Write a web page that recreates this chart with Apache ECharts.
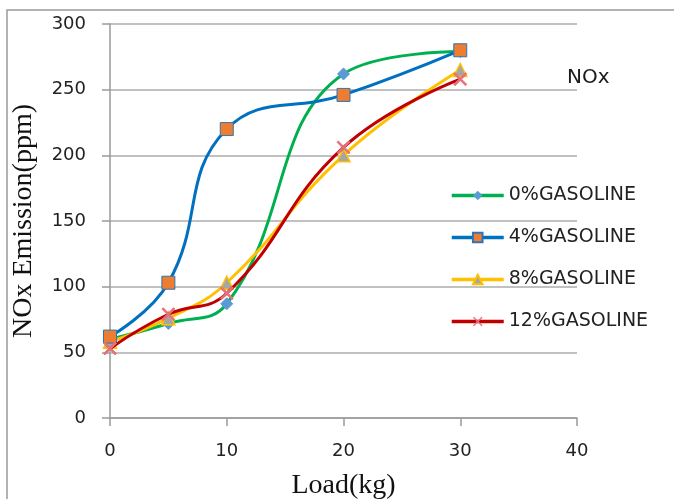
<!DOCTYPE html>
<html>
<head>
<meta charset="utf-8">
<script src="https://cdn.jsdelivr.net/npm/echarts@6/dist/echarts.min.js"></script>
<style>html,body{margin:0;padding:0;background:#fff}#c{width:674px;height:499px}</style>
</head>
<body>
<div id="c"></div>
<script>
var loads = [0, 5, 10, 20, 30];
var gas0 = [60, 72, 87, 262, 279];
var gas4 = [62, 103, 220, 246, 280];
var gas8 = [58, 76, 103, 200, 265];
var gas12 = [53, 79, 95, 206, 258];
var seriesNames = ['0%GASOLINE', '4%GASOLINE', '8%GASOLINE', '12%GASOLINE'];

function pairs(v) { return loads.map(function (x, i) { return [x, v[i]]; }); }

var crossPath = 'path://M0,1L1,0L5,4L9,0L10,1L6,5L10,9L9,10L5,6L1,10L0,9L4,5Z';
var sans = 'DejaVu Sans';
var serif = 'Liberation Serif';

var chart = echarts.init(document.getElementById('c'));
chart.setOption({
  animation: false,
  backgroundColor: '#fff',
  grid: { left: 110, right: 97, top: 24, bottom: 81, outerBoundsMode: 'none', containLabel: false },
  graphic: [
    { type: 'rect', shape: { x: 7, y: 10, width: 720, height: 520 }, style: { fill: 'none', stroke: '#9a9a9a', lineWidth: 1.5 }, z: -1 },
    { type: 'text', left: 567, top: 68, style: { text: 'NOx', font: '20px "DejaVu Sans"', fill: '#1a1a1a' } }
  ],
  legend: {
    orient: 'vertical', left: 445, top: 181, itemGap: 23, itemWidth: 52, itemHeight: 12,
    lineStyle: { width: 3.5 },
    textStyle: { fontFamily: sans, fontSize: 19, color: '#222' },
    data: seriesNames
  },
  xAxis: {
    type: 'value', min: 0, max: 40, interval: 10,
    name: 'Load(kg)', nameLocation: 'middle', nameGap: 54,
    nameTextStyle: { fontFamily: serif, fontSize: 28, color: '#111' },
    axisLine: { show: true, lineStyle: { color: '#9a9a9a', width: 1.5 } },
    axisTick: { show: true, length: 8, lineStyle: { color: '#9a9a9a', width: 1.5 } },
    axisLabel: { fontFamily: sans, fontSize: 18, color: '#222', margin: 24 },
    splitLine: { show: false }
  },
  yAxis: {
    type: 'value', min: 0, max: 300, interval: 50,
    name: 'NOx Emission(ppm)', nameLocation: 'middle', nameGap: 72,
    nameTextStyle: { fontFamily: serif, fontSize: 28, color: '#111' },
    axisLine: { show: true, lineStyle: { color: '#9a9a9a', width: 1.5 } },
    axisTick: { show: true, length: 8, lineStyle: { color: '#9a9a9a', width: 1.5 } },
    axisLabel: { fontFamily: sans, fontSize: 18, color: '#222', margin: 24 },
    splitLine: { show: true, lineStyle: { color: '#acacac', width: 1.5 } }
  },
  series: [
    { name: seriesNames[0], type: 'line', smooth: 0.45, data: pairs(gas0),
      symbol: 'diamond', symbolSize: 12,
      lineStyle: { color: '#00B050', width: 3 },
      itemStyle: { color: '#5B9BD5', borderColor: '#5B9BD5' }, z: 2 },
    { name: seriesNames[1], type: 'line', smooth: 0.45, data: pairs(gas4),
      symbol: 'rect', symbolSize: 13,
      lineStyle: { color: '#0070C0', width: 3 },
      itemStyle: { color: '#ED7D31', borderColor: '#2E75B6', borderWidth: 1 }, z: 3 },
    { name: seriesNames[2], type: 'line', smooth: 0.45, data: pairs(gas8),
      symbol: 'triangle', symbolSize: 13,
      lineStyle: { color: '#FFC000', width: 3 },
      itemStyle: { color: '#A5A5A5', borderColor: '#FFC000', borderWidth: 1.5 }, z: 2 },
    { name: seriesNames[3], type: 'line', smooth: 0.45, data: pairs(gas12),
      symbol: crossPath, symbolSize: 13,
      lineStyle: { color: '#C00000', width: 3 },
      itemStyle: { color: '#E8707A', borderColor: '#E8707A' }, z: 4 }
  ]
});
</script>
</body>
</html>
